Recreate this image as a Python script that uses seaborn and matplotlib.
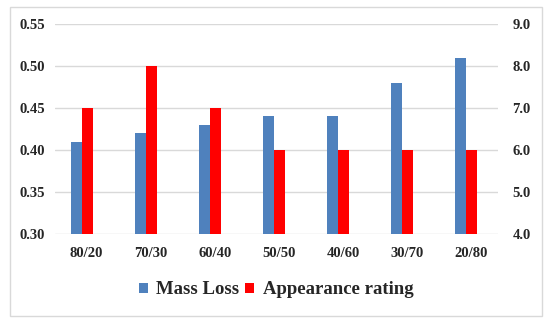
import matplotlib
matplotlib.use("Agg")
import matplotlib.pyplot as plt
import matplotlib.transforms as mtransforms
from matplotlib.patches import Patch, Rectangle
import numpy as np
import pandas as pd
import seaborn as sns

blends = ["80/20", "70/30", "60/40", "50/50", "40/60", "30/70", "20/80"]
mass_loss = [0.41, 0.42, 0.43, 0.44, 0.44, 0.48, 0.51]
appearance = [7.0, 8.0, 7.0, 6.0, 6.0, 6.0, 6.0]
series = ["Mass Loss", "Appearance rating"]
left_ticks = [0.30, 0.35, 0.40, 0.45, 0.50, 0.55]
right_ticks = [4.0, 5.0, 6.0, 7.0, 8.0, 9.0]

colors = {"Mass Loss": "#4F81BD", "Appearance rating": "#FF0000"}

df = pd.concat([
    pd.DataFrame({"blend": blends, "series": series[0], "mass": mass_loss, "rating": np.nan}),
    pd.DataFrame({"blend": blends, "series": series[1], "mass": np.nan, "rating": appearance}),
], ignore_index=True)

sns.set_style("white")
plt.rcParams["font.family"] = ["Liberation Serif", "DejaVu Serif"]
plt.rcParams["font.weight"] = "bold"

fig = plt.figure(figsize=(5.5, 3.23), dpi=100)
ax1 = fig.add_axes([55 / 550, 1 - 234 / 323, 443 / 550, 210 / 323])
ax2 = ax1.twinx()

sns.barplot(data=df, x="blend", y="mass", hue="series", order=blends, hue_order=series,
            palette=colors, width=0.34, gap=0, errorbar=None, ax=ax1, legend=False,
            edgecolor="none", saturation=1, zorder=3)
sns.barplot(data=df, x="blend", y="rating", hue="series", order=blends, hue_order=series,
            palette=colors, width=0.34, gap=0, errorbar=None, ax=ax2, legend=False,
            edgecolor="none", saturation=1, zorder=3)

ax1.set_ylim(0.30, 0.55)
ax2.set_ylim(4.0, 9.0)
ax1.set_yticks(left_ticks)
ax1.set_yticklabels([f"{v:.2f}" for v in left_ticks])
ax2.set_yticks(right_ticks)
ax2.set_yticklabels([f"{v:.1f}" for v in right_ticks])
ax1.set_xlim(-0.416, 6.494)

ax1.grid(axis="y", color="#d9d9d9", linewidth=1.0, zorder=0)
ax1.set_axisbelow(True)
ax2.grid(False)
ax2.patch.set_visible(False)
for a in (ax1, ax2):
    for s in a.spines.values():
        s.set_visible(False)
    a.set_xlabel("")
    a.set_ylabel("")
    a.tick_params(length=0)

ax1.tick_params(axis="x", pad=9.5, labelsize=10.5)
ax1.tick_params(axis="y", pad=7.0, labelsize=10.5)
ax2.tick_params(axis="y", pad=10.4, labelsize=10.5)
for lab in ax1.get_xticklabels() + ax1.get_yticklabels() + ax2.get_yticklabels():
    lab.set_fontweight("bold")

offset = mtransforms.ScaledTranslation(5 / 100, 0, fig.dpi_scale_trans)
for lab in ax1.get_xticklabels():
    lab.set_transform(lab.get_transform() + offset)

handles = [Patch(facecolor=colors[s], edgecolor="none", label=s) for s in series]
fig.legend(handles=handles, loc="center", bbox_to_anchor=(276 / 550, 1 - 290 / 323), ncol=2,
           frameon=False, prop={"family": ["Liberation Serif"], "weight": "bold", "size": 13.5},
           handlelength=0.5, handleheight=0.5, handletextpad=0.45, columnspacing=0.3,
           borderaxespad=0, borderpad=0)

fig.patches.append(Rectangle((10 / 550, 1 - 316 / 323), 532 / 550, 309 / 323,
                             transform=fig.transFigure, fill=False, edgecolor="#d9d9d9",
                             linewidth=1.0))

fig.savefig("out.png", dpi=100)
